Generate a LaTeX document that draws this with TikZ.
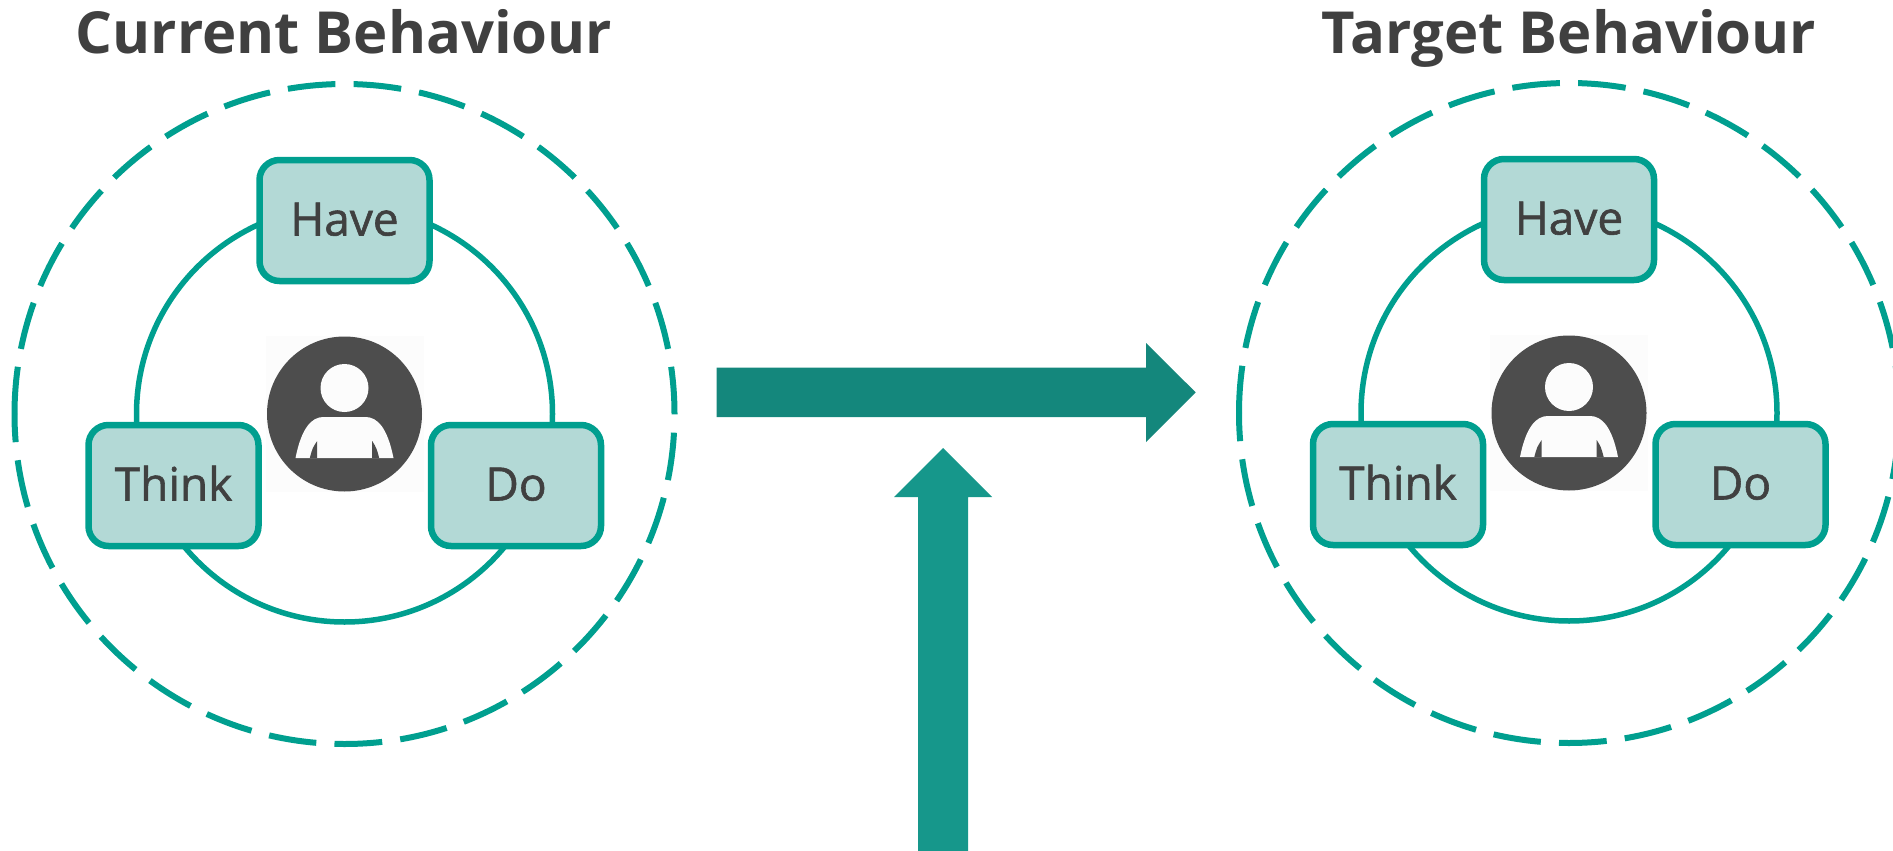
\documentclass[tikz,border=0pt]{standalone}
\usepackage{fontspec}
\setmainfont{Open Sans}
\newfontfamily\bodyfont[RawFeature={embolden=1.2}]{Open Sans}
\definecolor{teal1}{HTML}{009F8F}
\definecolor{tealfill}{HTML}{B3D9D6}
\definecolor{ink}{HTML}{404040}
\definecolor{icon}{HTML}{4D4D4D}
\definecolor{iconbg}{HTML}{FCFCFC}
\definecolor{arrowA}{HTML}{14877C}
\definecolor{arrowB}{HTML}{16978B}
\tikzset{
  titletext/.style={anchor=base,text=ink,inner sep=0pt,font=\fontsize{58}{60}\selectfont\bfseries},
  boxnode/.style={draw=teal1,fill=tealfill,line width=6.5pt,rounded corners=20pt,minimum width=170pt,minimum height=121pt,inner sep=0pt,text=ink,text height=30pt,text depth=0pt,font=\bodyfont\fontsize{46}{50}\selectfont},
  ringline/.style={draw=teal1,line width=5.5pt,circle,minimum size=416pt,inner sep=0pt},
  dashring/.style={draw=teal1,line width=6pt,dash pattern=on 47.8pt off 18.2pt,dash phase=56.9pt},
  iconbgnode/.style={fill=iconbg,minimum width=158pt,minimum height=156pt,inner sep=0pt},
  icondisc/.style={fill=icon,circle,minimum size=155pt,inner sep=0pt},
  iconhead/.style={fill=iconbg,circle,minimum size=48pt,inner sep=0pt},
}
\newcommand{\behaviour}[3]{%
  \begin{scope}[shift={(#2,#3)}]
    \coordinate (#1top) at (0,-330);
    \draw[dashring] (#1top) arc[start angle=90,end angle=-180,radius=330pt];
    \draw[dashring] (#1top) arc[start angle=90,end angle=180,radius=330pt];
    \node[ringline] (#1ring) at (0,0) {};
    \node[iconbgnode] (#1bg) at (0,0) {};
    \node[icondisc] (#1disc) at (0,0) {};
    \node[iconhead] (#1head) at (0,-26) {};
    \fill[iconbg] (-49,44) .. controls (-43,14) and (-33,3) .. (-21,3) -- (21,3) .. controls (33,3) and (43,14) .. (49,44) -- cycle;
    \fill[icon] (-34.7,44) .. controls (-32,34) .. (-27.3,27) -- (-27.3,44) -- cycle;
    \fill[icon] (34.7,44) .. controls (32,34) .. (27.7,27) -- (27.7,44) -- cycle;
    \node[boxnode] (#1have) at (0,-193.5) {Have};
    \node[boxnode] (#1think) at (-171,71.5) {Think};
    \node[boxnode] (#1do) at (171.5,71.5) {Do};
  \end{scope}}
\begin{document}
\begin{tikzpicture}[x=1pt,y=-1pt]
  \useasboundingbox (0,0) rectangle (1893,851);
  \node[titletext] (t1) at (344,53.5) {Current Behaviour};
  \node[titletext] (t2) at (1569,53.5) {Target Behaviour};
  \behaviour{a}{344.5}{414}
  \behaviour{b}{1569}{413}
  \coordinate (hstart) at (716.7,392.4);
  \coordinate (vstart) at (943.2,851);
  \fill[arrowA] (hstart) ++(0,-24.8) -- ++(429.3,0) -- ++(0,-24.6) -- (1195.7,392.4) -- (1146,442) -- ++(0,-24.8) -- ++(-429.3,0) -- cycle;
  \fill[arrowB] (vstart) ++(-25,0) -- ++(0,-354) -- ++(-24,0) -- (943.2,448) -- (992.2,497) -- ++(-24,0) -- ++(0,354) -- cycle;
\end{tikzpicture}
\end{document}
